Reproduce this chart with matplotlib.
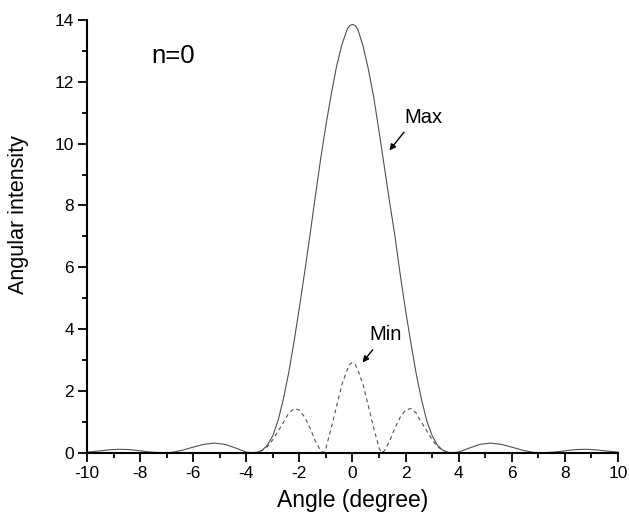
import matplotlib
matplotlib.use("Agg")
import matplotlib.pyplot as plt
from matplotlib.ticker import MultipleLocator

plt.rcParams['font.family'] = ['Liberation Sans', 'DejaVu Sans']
plt.rcParams['axes.unicode_minus'] = False

# Max curve (solid)
max_x = [-10, -9.6, -9.2, -8.8, -8.4, -8.0, -7.6, -7.2, -6.8, -6.4, -6.0, -5.6, -5.2, -4.8, -4.4,
         -4.0, -3.8, -3.6, -3.4, -3.2, -3.0, -2.8, -2.6, -2.4, -2.2, -2.0, -1.8, -1.6, -1.4, -1.2,
         -1.0, -0.8, -0.6, -0.4, -0.2, -0.1, 0.0, 0.1, 0.2, 0.4, 0.6, 0.8, 1.0, 1.2, 1.4, 1.6,
         1.8, 2.0, 2.2, 2.4, 2.6, 2.8, 3.0, 3.2, 3.4, 3.6, 3.8, 4.0, 4.4, 4.8, 5.2, 5.6, 6.0,
         6.4, 6.8, 7.2, 7.6, 8.0, 8.4, 8.8, 9.2, 9.6, 10]
max_y = [0.02, 0.05, 0.09, 0.11, 0.10, 0.06, 0.02, 0.0, 0.01, 0.08, 0.18, 0.27, 0.31, 0.27, 0.15,
         0.02, 0.0, 0.01, 0.08, 0.25, 0.55, 1.05, 1.75, 2.6, 3.6, 4.7, 5.85, 7.05, 8.3, 9.5,
         10.6, 11.6, 12.5, 13.2, 13.7, 13.82, 13.86, 13.82, 13.7, 13.15, 12.4, 11.5, 10.4, 9.25, 8.1, 7.0,
         5.75, 4.6, 3.55, 2.55, 1.72, 1.02, 0.55, 0.24, 0.08, 0.01, 0.0, 0.02, 0.15, 0.27, 0.31, 0.27, 0.18,
         0.08, 0.01, 0.0, 0.02, 0.06, 0.10, 0.11, 0.09, 0.05, 0.02]

# Min curve (dashed)
min_x = [-10, -4.0, -3.8, -3.6, -3.4, -3.2, -3.0, -2.8, -2.6, -2.4, -2.2, -2.0, -1.8, -1.6, -1.4,
         -1.2, -1.1, -1.0, -0.8, -0.6, -0.4, -0.2, -0.1, 0.0, 0.1, 0.2, 0.4, 0.6, 0.8, 1.0, 1.1,
         1.2, 1.4, 1.6, 1.8, 2.0, 2.2, 2.4, 2.6, 2.8, 3.0, 3.2, 3.4, 3.6, 3.8, 4.0, 10]
min_y = [0.0, 0.0, 0.0, 0.01, 0.07, 0.2, 0.42, 0.7, 0.98, 1.28, 1.43, 1.38, 1.15, 0.8, 0.38,
         0.06, 0.0, 0.15, 0.8, 1.5, 2.2, 2.68, 2.86, 2.92, 2.86, 2.68, 2.2, 1.5, 0.8, 0.15, 0.0,
         0.06, 0.38, 0.8, 1.15, 1.38, 1.43, 1.28, 0.98, 0.7, 0.42, 0.2, 0.07, 0.01, 0.0, 0.0, 0.0]

fig = plt.figure(figsize=(6.29, 5.17), dpi=100)
ax = fig.add_axes([0.1383, 0.1244, 0.8442, 0.8369])

ax.plot(max_x, max_y, color='#505050', lw=0.8, solid_capstyle='butt')
ax.plot(min_x, min_y, color='#505050', lw=0.8, linestyle=(0, (3.5, 3)))

ax.set_xlim(-10, 10)
ax.set_ylim(0, 14)
ax.xaxis.set_major_locator(MultipleLocator(2))
ax.xaxis.set_minor_locator(MultipleLocator(1))
ax.yaxis.set_major_locator(MultipleLocator(2))
ax.yaxis.set_minor_locator(MultipleLocator(1))

for s in ['top', 'right']:
    ax.spines[s].set_visible(False)
for s in ['left', 'bottom']:
    ax.spines[s].set_linewidth(1.5)
ax.tick_params(which='major', direction='out', length=6.5, width=1.3, labelsize=12.5, pad=3)
ax.tick_params(which='minor', direction='out', length=3.5, width=1.3)

ax.set_xlabel('Angle (degree)', fontsize=16.5, labelpad=6)
ax.set_ylabel('Angular intensity', fontsize=15.5)
ax.yaxis.set_label_coords(-0.11, 0.55)

ax.text(-6.76, 12.85, 'n=0', fontsize=18.5, ha='center', va='center')
ax.text(2.66, 10.85, 'Max', fontsize=14.5, ha='center', va='center')
ax.text(1.26, 3.81, 'Min', fontsize=14.5, ha='center', va='center')

ax.annotate('', xy=(1.39, 9.78), xytext=(1.94, 10.37),
            arrowprops=dict(arrowstyle='-|>', color='black', lw=1.0, mutation_scale=9,
                            shrinkA=0, shrinkB=0))
ax.annotate('', xy=(0.38, 2.92), xytext=(0.76, 3.33),
            arrowprops=dict(arrowstyle='-|>', color='black', lw=1.0, mutation_scale=9,
                            shrinkA=0, shrinkB=0))

fig.savefig('out.png', dpi=100)
